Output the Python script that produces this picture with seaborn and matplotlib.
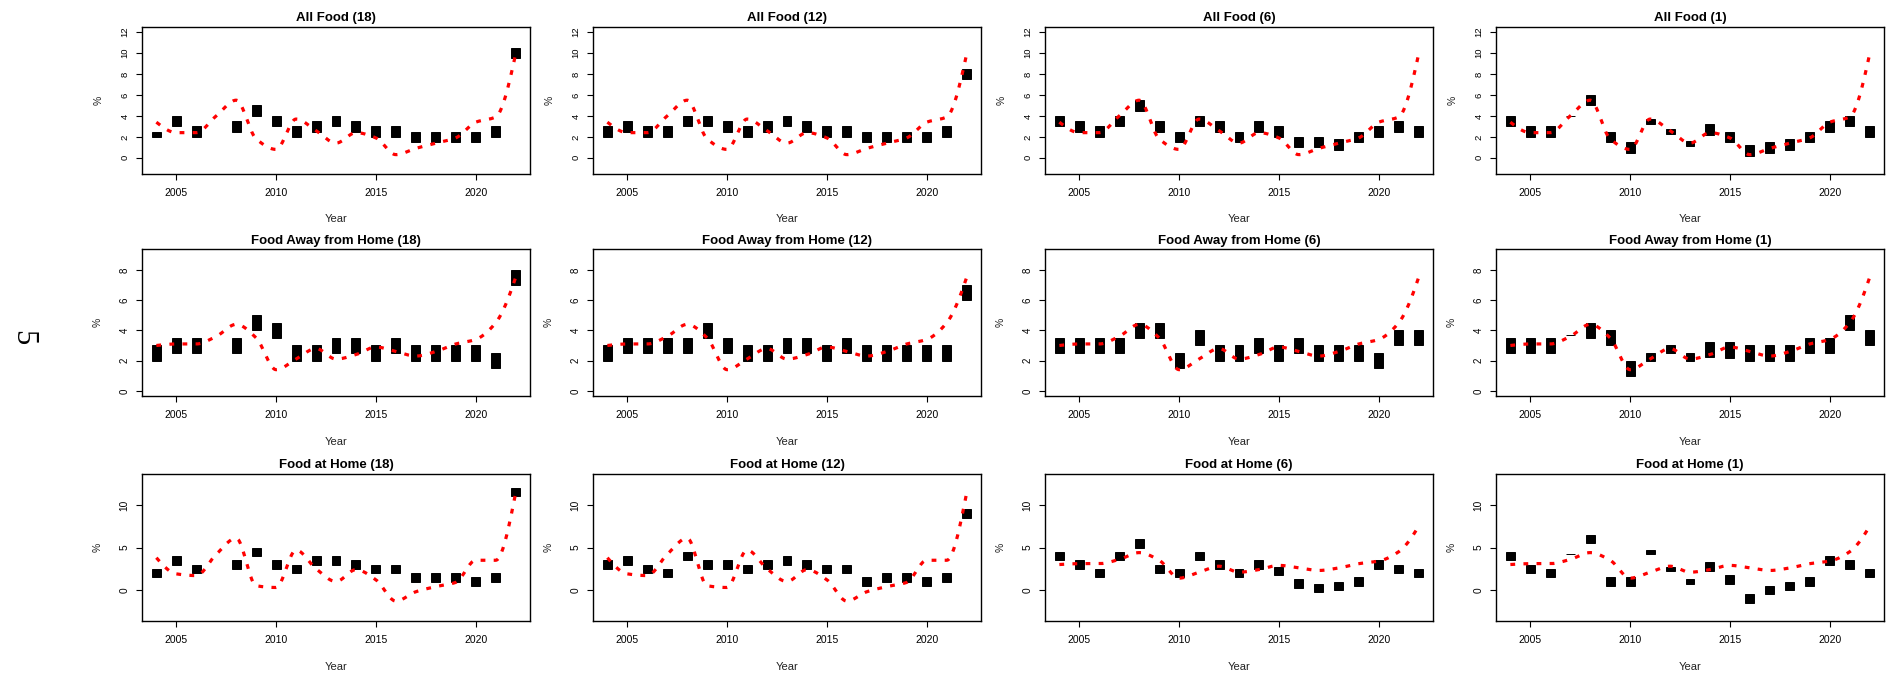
import numpy as np
import pandas as pd
import matplotlib
matplotlib.use("Agg")
import matplotlib.pyplot as plt
import seaborn as sns

nan = float("nan")
years = list(range(2004, 2023))

# actual annual % change (red dotted line)
actual_all_food = [3.4, 2.4, 2.4, 4.0, 5.5, 1.8, 0.8, 3.7, 2.6, 1.4, 2.4, 1.9, 0.3, 0.9, 1.4, 1.9, 3.4, 3.9, 9.9]
actual_away = [3.0, 3.1, 3.1, 3.6, 4.4, 3.5, 1.4, 2.1, 2.8, 2.1, 2.4, 2.9, 2.6, 2.3, 2.6, 3.1, 3.4, 4.5, 7.5]
actual_home = [3.8, 1.9, 1.7, 4.2, 6.1, 0.5, 0.3, 4.7, 2.5, 1.0, 2.4, 1.2, -1.3, -0.2, 0.4, 0.9, 3.5, 3.5, 11.4]

# forecast ranges (black boxes): low / high
af18_lo = [2.0, 3.0, 2.0, nan, 2.5, 4.0, 3.0, 2.0, 2.5, 3.0, 2.5, 2.0, 2.0, 1.5, 1.5, 1.5, 1.5, 2.0, 9.5]
af18_hi = [2.5, 4.0, 3.0, nan, 3.5, 5.0, 4.0, 3.0, 3.5, 4.0, 3.5, 3.0, 3.0, 2.5, 2.5, 2.5, 2.5, 3.0, 10.5]
af12_lo = [2.0, 2.5, 2.0, 2.0, 3.0, 3.0, 2.5, 2.0, 2.5, 3.0, 2.5, 2.0, 2.0, 1.5, 1.5, 1.5, 1.5, 2.0, 7.5]
af12_hi = [3.0, 3.5, 3.0, 3.0, 4.0, 4.0, 3.5, 3.0, 3.5, 4.0, 3.5, 3.0, 3.0, 2.5, 2.5, 2.5, 2.5, 3.0, 8.5]
af6_lo = [3.0, 2.5, 2.0, 3.0, 4.5, 2.5, 1.5, 3.0, 2.5, 1.5, 2.5, 2.0, 1.0, 1.0, 0.75, 1.5, 2.0, 2.5, 2.0]
af6_hi = [4.0, 3.5, 3.0, 4.0, 5.5, 3.5, 2.5, 4.0, 3.5, 2.5, 3.5, 3.0, 2.0, 2.0, 1.75, 2.5, 3.0, 3.5, 3.0]
af1_lo = [3.0, 2.0, 2.0, 4.0, 5.0, 1.5, 0.5, 3.2, 2.25, 1.1, 2.2, 1.5, 0.2, 0.5, 0.75, 1.5, 2.5, 3.0, 2.0]
af1_hi = [4.0, 3.0, 3.0, 4.0, 6.0, 2.5, 1.5, 3.7, 2.75, 1.6, 3.2, 2.5, 1.2, 1.5, 1.75, 2.5, 3.5, 4.0, 3.0]

faf18_lo = [2.0, 2.5, 2.5, nan, 2.5, 4.0, 3.5, 2.0, 2.0, 2.5, 2.5, 2.0, 2.5, 2.0, 2.0, 2.0, 2.0, 1.5, 7.0]
faf18_hi = [3.0, 3.5, 3.5, nan, 3.5, 5.0, 4.5, 3.0, 3.0, 3.5, 3.5, 3.0, 3.5, 3.0, 3.0, 3.0, 3.0, 2.5, 8.0]
faf12_lo = [2.0, 2.5, 2.5, 2.5, 2.5, 3.5, 2.5, 2.0, 2.0, 2.5, 2.5, 2.0, 2.5, 2.0, 2.0, 2.0, 2.0, 2.0, 6.0]
faf12_hi = [3.0, 3.5, 3.5, 3.5, 3.5, 4.5, 3.5, 3.0, 3.0, 3.5, 3.5, 3.0, 3.5, 3.0, 3.0, 3.0, 3.0, 3.0, 7.0]
faf6_lo = [2.5, 2.5, 2.5, 2.5, 3.5, 3.5, 1.5, 3.0, 2.0, 2.0, 2.5, 2.0, 2.5, 2.0, 2.0, 2.0, 1.5, 3.0, 3.0]
faf6_hi = [3.5, 3.5, 3.5, 3.5, 4.5, 4.5, 2.5, 4.0, 3.0, 3.0, 3.5, 3.0, 3.5, 3.0, 3.0, 3.0, 2.5, 4.0, 4.0]
faf1_lo = [2.5, 2.5, 2.5, 3.7, 3.5, 3.0, 1.0, 2.0, 2.5, 2.0, 2.25, 2.2, 2.0, 2.0, 2.0, 2.5, 2.5, 4.0, 3.0]
faf1_hi = [3.5, 3.5, 3.5, 3.7, 4.5, 4.0, 2.0, 2.5, 3.0, 2.5, 3.25, 3.2, 3.0, 3.0, 3.0, 3.5, 3.5, 5.0, 4.0]

fah18_lo = [1.5, 3.0, 2.0, nan, 2.5, 4.0, 2.5, 2.0, 3.0, 3.0, 2.5, 2.0, 2.0, 1.0, 1.0, 1.0, 0.5, 1.0, 11.0]
fah18_hi = [2.5, 4.0, 3.0, nan, 3.5, 5.0, 3.5, 3.0, 4.0, 4.0, 3.5, 3.0, 3.0, 2.0, 2.0, 2.0, 1.5, 2.0, 12.0]
fah12_lo = [2.5, 3.0, 2.0, 1.5, 3.5, 2.5, 2.5, 2.0, 2.5, 3.0, 2.5, 2.0, 2.0, 0.5, 1.0, 1.0, 0.5, 1.0, 8.5]
fah12_hi = [3.5, 4.0, 3.0, 2.5, 4.5, 3.5, 3.5, 3.0, 3.5, 4.0, 3.5, 3.0, 3.0, 1.5, 2.0, 2.0, 1.5, 2.0, 9.5]
fah6_lo = [3.5, 2.5, 1.5, 3.5, 5.0, 2.0, 1.5, 3.5, 2.5, 1.5, 2.5, 1.75, 0.25, -0.25, 0.0, 0.5, 2.5, 2.0, 1.5]
fah6_hi = [4.5, 3.5, 2.5, 4.5, 6.0, 3.0, 2.5, 4.5, 3.5, 2.5, 3.5, 2.75, 1.25, 0.75, 1.0, 1.5, 3.5, 3.0, 2.5]
fah1_lo = [3.5, 2.0, 1.5, 4.25, 5.5, 0.5, 0.5, 4.25, 2.25, 0.75, 2.25, 0.75, -1.5, -0.5, 0.0, 0.5, 3.0, 2.5, 1.5]
fah1_hi = [4.5, 3.0, 2.5, 4.25, 6.5, 1.5, 1.5, 4.75, 2.75, 1.25, 3.25, 1.75, -0.5, 0.5, 1.0, 1.5, 4.0, 3.5, 2.5]

horizons = ["18", "12", "6", "1"]
row_titles = ["All Food", "Food Away from Home", "Food at Home"]
row_actuals = [
    [actual_all_food] * 4,
    [actual_away] * 4,
    [actual_home, actual_home, actual_away, actual_away],
]
row_boxes = [
    [(af18_lo, af18_hi), (af12_lo, af12_hi), (af6_lo, af6_hi), (af1_lo, af1_hi)],
    [(faf18_lo, faf18_hi), (faf12_lo, faf12_hi), (faf6_lo, faf6_hi), (faf1_lo, faf1_hi)],
    [(fah18_lo, fah18_hi), (fah12_lo, fah12_hi), (fah6_lo, fah6_hi), (fah1_lo, fah1_hi)],
]
row_ylim = [(-1, 12), (0, 9), (-3, 13)]
row_yticks = [[0, 2, 4, 6, 8, 10, 12], [0, 2, 4, 6, 8], [0, 5, 10]]
row_ytick_size = [6.8, 7.0, 7.3]
xticks = [2005, 2010, 2015, 2020]


def monotone_curve(x, y, n):
    """Shape-preserving (monotone Hermite) interpolating curve for display."""
    x = np.asarray(x, float)
    y = np.asarray(y, float)
    h = np.diff(x)
    d = np.diff(y) / h
    m = np.zeros_like(y)
    for k in range(1, len(x) - 1):
        if d[k - 1] * d[k] <= 0:
            m[k] = 0.0
        else:
            w1 = 2 * h[k] + h[k - 1]
            w2 = h[k] + 2 * h[k - 1]
            m[k] = (w1 + w2) / (w1 / d[k - 1] + w2 / d[k])

    def end_slope(h0, h1, d0, d1):
        s = ((2 * h0 + h1) * d0 - h0 * d1) / (h0 + h1)
        if np.sign(s) != np.sign(d0):
            s = 0.0
        elif np.sign(d0) != np.sign(d1) and abs(s) > abs(3 * d0):
            s = 3 * d0
        return s

    m[0] = end_slope(h[0], h[1], d[0], d[1])
    m[-1] = end_slope(h[-1], h[-2], d[-1], d[-2])
    xs = np.linspace(x[0], x[-1], n)
    ys = np.empty_like(xs)
    for j, xv in enumerate(xs):
        i = min(np.searchsorted(x, xv, side="right") - 1, len(x) - 2)
        t = (xv - x[i]) / h[i]
        h00 = 2 * t ** 3 - 3 * t ** 2 + 1
        h10 = t ** 3 - 2 * t ** 2 + t
        h01 = -2 * t ** 3 + 3 * t ** 2
        h11 = t ** 3 - t ** 2
        ys[j] = h00 * y[i] + h10 * h[i] * m[i] + h01 * y[i + 1] + h11 * h[i] * m[i + 1]
    return xs, ys


sns.set_theme(style="ticks", rc={
    "axes.edgecolor": "black",
    "axes.linewidth": 1.0,
    "xtick.color": "black",
    "ytick.color": "black",
    "axes.labelcolor": "#222222",
    "text.color": "black",
})
plt.rcParams["font.family"] = ["Liberation Sans", "DejaVu Sans"]

W, H = 1896, 677
fig = plt.figure(figsize=(W / 100, H / 100), dpi=100)
fig.patch.set_facecolor("white")

col_left = [142, 593, 1045, 1496]
ax_w = 388
row_top = [26.7, 249.3, 474]
ax_h = 147

for r in range(3):
    for c in range(4):
        left = col_left[c] / W
        bottom = 1 - (row_top[r] + ax_h) / H
        ax = fig.add_axes([left, bottom, ax_w / W, ax_h / H])
        lo, hi = row_boxes[r][c]
        lo_a = np.array(lo, float)
        hi_a = np.array(hi, float)
        yr = np.array(years, float)
        ok = ~np.isnan(lo_a)
        ax.bar(yr[ok], hi_a[ok] - lo_a[ok], bottom=lo_a[ok], width=0.45,
               color="black", edgecolor="black", linewidth=0.7, zorder=2)
        xs, ys = monotone_curve(years, row_actuals[r][c], 400)
        df = pd.DataFrame({"Year": xs, "pct": ys})
        sns.lineplot(data=df, x="Year", y="pct", ax=ax, color="red",
                     linewidth=2.3, linestyle=(0, (1.5, 2.6)), errorbar=None,
                     sort=False, zorder=3)
        ax.set_xlim(2004 - 0.72, 2022 + 0.72)
        ylo, yhi = row_ylim[r]
        pad = 0.04 * (yhi - ylo)
        ax.set_ylim(ylo - pad, yhi + pad)
        ax.set_xticks(xticks)
        ax.set_yticks(row_yticks[r])
        ax.tick_params(axis="x", length=4.1, width=0.8, pad=6.0, labelsize=7.5)
        ax.tick_params(axis="y", length=4.1, width=0.8, pad=5.0,
                       labelsize=row_ytick_size[r], labelrotation=90)
        for lab in ax.get_yticklabels():
            lab.set_va("center")
        for sp in ax.spines.values():
            sp.set_visible(True)
            sp.set_color("black")
            sp.set_linewidth(1.0)
        ax.set_title(f"{row_titles[r]} ({horizons[c]})", fontsize=9.5,
                     fontweight="bold", pad=4)
        ax.set_xlabel("Year", fontsize=8, labelpad=12)
        ax.set_ylabel("%", fontsize=7.5, labelpad=12)
        ax.set_facecolor("white")

fig.text(23 / W, 1 - 338 / H, "5", rotation=-90, fontsize=22,
         family=["Liberation Serif", "DejaVu Serif"], ha="center", va="center")

fig.savefig("out.png", dpi=100, facecolor="white")
